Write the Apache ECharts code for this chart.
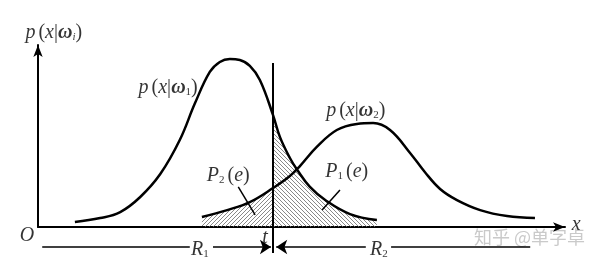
<!DOCTYPE html>
<html>
<head>
<meta charset="utf-8">
<script src="https://cdn.jsdelivr.net/npm/echarts@6/dist/echarts.min.js"></script>
<style>html,body{margin:0;padding:0;background:#fff}#c{width:600px;height:264px}</style>
</head>
<body>
<div id="c"></div>
<script>
// x in abstract units (0..10), y = density (0..1)
const curve1X = [0.70, 1.18, 1.56, 1.94, 2.32, 2.69, 2.98, 3.26, 3.45, 3.64, 3.83, 4.02, 4.21, 4.46, 4.59, 4.78, 4.92, 5.16, 5.45, 5.92, 6.43];
const curve1Y = [0.027, 0.049, 0.082, 0.165, 0.291, 0.478, 0.681, 0.852, 0.907, 0.923, 0.918, 0.885, 0.808, 0.615, 0.495, 0.379, 0.313, 0.220, 0.148, 0.071, 0.038];
const curve2X = [3.11, 3.59, 4.02, 4.46, 4.78, 4.97, 5.29, 5.67, 6.05, 6.36, 6.68, 7.06, 7.34, 7.63, 7.95, 8.39, 8.90, 9.43];
const curve2Y = [0.055, 0.093, 0.137, 0.214, 0.280, 0.335, 0.440, 0.533, 0.566, 0.571, 0.533, 0.407, 0.302, 0.209, 0.148, 0.093, 0.060, 0.049];
const tValue = 4.46;

const FONT = '"Liberation Serif", "Times New Roman", serif';
const c1 = curve1X.map((x, i) => [x, curve1Y[i]]);
const c2 = curve2X.map((x, i) => [x, curve2Y[i]]);
const hatchLeft = c2.filter(p => p[0] <= tValue);
const hatchRight = c1.filter(p => p[0] >= tValue);

function hatch(dir) {
  const s = 4;
  const cv = document.createElement('canvas');
  cv.width = s; cv.height = s;
  const g = cv.getContext('2d');
  g.strokeStyle = '#6a6a6a';
  g.lineWidth = 0.8;
  g.beginPath();
  for (let k = -1; k <= 1; k++) {
    if (dir === '/') { g.moveTo(k * s, s); g.lineTo(k * s + s, 0); }
    else { g.moveTo(k * s, 0); g.lineTo(k * s + s, s); }
  }
  g.stroke();
  return { image: cv, repeat: 'repeat' };
}

const rich = {
  i: { fontFamily: FONT, fontStyle: 'italic', fontSize: 20, color: '#000' },
  r: { fontFamily: FONT, fontSize: 20, color: '#000' },
  g: { fontFamily: FONT, fontSize: 20, color: '#000', padding: [0, 0, 0, 3] },
  w: { fontFamily: FONT, fontStyle: 'italic', fontWeight: 'bold', fontSize: 20, color: '#000' },
  s: { fontFamily: FONT, fontSize: 11, color: '#000', verticalAlign: 'bottom', padding: [9, 0, 0, 0] },
  si: { fontFamily: FONT, fontStyle: 'italic', fontSize: 11, color: '#000', verticalAlign: 'bottom', padding: [9, 0, 0, 0] }
};

const labels = [
  { pos: [0.30, 1.066], text: '{i|p}{g|(}{i|x}{r||}{w|ω}{si|i}{r|)}' },
  { pos: [2.47, 0.764], text: '{i|p}{g|(}{i|x}{r||}{w|ω}{s|1}{r|)}' },
  { pos: [6.03, 0.637], text: '{i|p}{g|(}{i|x}{r||}{w|ω}{s|2}{r|)}' },
  { pos: [5.86, 0.302], text: '{i|P}{s|1}{g|(}{i|e}{r|)}' },
  { pos: [3.61, 0.280], text: '{i|P}{s|2}{g|(}{i|e}{r|)}' },
  { pos: [4.31, -0.060], text: '{i|t}' },
  { pos: [-0.21, -0.049], text: '{i|O}' },
  { pos: [10.21, 0.010], text: '{i|x}' },
  { pos: [3.07, -0.126], text: '{i|R}{s|1}' },
  { pos: [6.47, -0.126], text: '{i|R}{s|2}' }
];

const chart = echarts.init(document.getElementById('c'), null, { renderer: 'canvas' });
chart.setOption({
  animation: false,
  backgroundColor: '#fff',
  grid: { left: 38, top: 45, width: 527, height: 182 },
  xAxis: {
    type: 'value', min: 0, max: 10,
    axisLine: { onZero: false, symbol: ['none', 'arrow'], symbolSize: [7, 12], lineStyle: { color: '#000', width: 2 } },
    axisTick: { show: false }, axisLabel: { show: false }, splitLine: { show: false }
  },
  yAxis: {
    type: 'value', min: 0, max: 1,
    axisLine: { show: true, onZero: false, symbol: ['none', 'arrow'], symbolSize: [7, 12], lineStyle: { color: '#000', width: 2 } },
    axisTick: { show: false }, axisLabel: { show: false }, splitLine: { show: false }
  },
  graphic: [{
    type: 'text', left: 474, top: 228,
    style: { text: '知乎 @单字卓', fontSize: 18, fill: '#cacaca', fontFamily: 'Noto Sans CJK SC' }
  }],
  series: [
    { type: 'line', data: hatchLeft, smooth: 0.4, symbol: 'none', lineStyle: { width: 0, opacity: 0 }, areaStyle: { color: hatch('/'), opacity: 1 }, z: 1 },
    { type: 'line', data: hatchRight, smooth: 0.4, symbol: 'none', lineStyle: { width: 0, opacity: 0 }, areaStyle: { color: hatch('\\'), opacity: 1 }, z: 1 },
    { type: 'line', data: c1, smooth: 0.4, symbol: 'none', lineStyle: { color: '#000', width: 2.5 }, z: 3 },
    { type: 'line', data: c2, smooth: 0.4, symbol: 'none', lineStyle: { color: '#000', width: 2.5 }, z: 3 },
    {
      type: 'lines', coordinateSystem: 'cartesian2d', clip: false, z: 4,
      lineStyle: { color: '#000', width: 2, opacity: 1 }, symbol: 'none',
      data: [{ coords: [[tValue, 0.901], [tValue, -0.143]] }]
    },
    {
      type: 'lines', coordinateSystem: 'cartesian2d', clip: false, z: 4,
      lineStyle: { color: '#000', width: 1.5, opacity: 1 }, symbol: 'none',
      data: [
        { coords: [[3.80, 0.220], [4.12, 0.066]] },
        { coords: [[5.73, 0.203], [5.39, 0.093]] },
        { coords: [[0.08, -0.110], [2.88, -0.110]] },
        { coords: [[6.70, -0.110], [9.34, -0.110]] }
      ]
    },
    {
      type: 'lines', coordinateSystem: 'cartesian2d', clip: false, z: 4,
      lineStyle: { color: '#000', width: 1.5, opacity: 1 }, symbol: ['none', 'arrow'], symbolSize: [7, 11],
      data: [
        { coords: [[3.32, -0.110], [4.42, -0.110]] },
        { coords: [[6.22, -0.110], [4.52, -0.110]] }
      ]
    },
    {
      type: 'scatter', clip: false, symbolSize: 0, z: 5,
      data: labels.map(l => ({ value: l.pos, label: { formatter: l.text } })),
      label: { show: true, position: 'inside', rich: rich }
    }
  ]
});
</script>
</body>
</html>
